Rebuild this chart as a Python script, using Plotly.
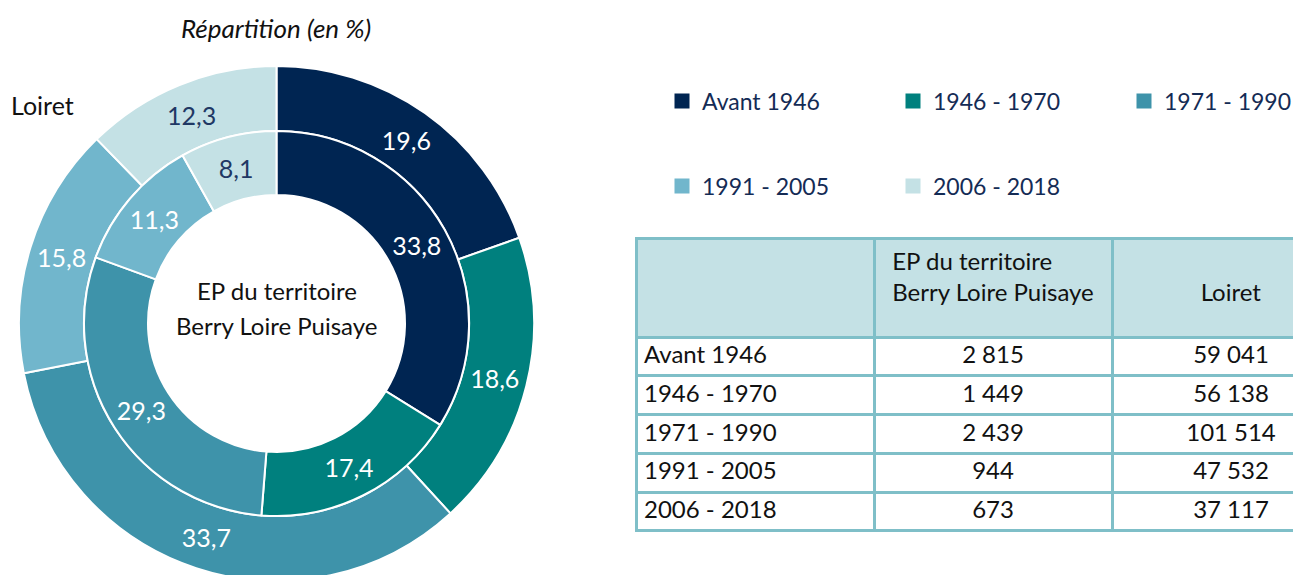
import plotly.graph_objects as go

# ---------------- data ----------------
periods = ["Avant 1946", "1946 - 1970", "1971 - 1990", "1991 - 2005", "2006 - 2018"]
pct_ep = [33.8, 17.4, 29.3, 11.3, 8.1]          # inner ring: EP du territoire Berry Loire Puisaye
pct_loiret = [19.6, 18.6, 33.7, 15.8, 12.3]     # outer ring: Loiret
n_ep = [2815, 1449, 2439, 944, 673]
n_loiret = [59041, 56138, 101514, 47532, 37117]

col_headers = ["", "EP du territoire<br>Berry Loire Puisaye", "\u00a0<br>Loiret"]
center_lines = ["EP du territoire", "Berry Loire Puisaye"]

# ---------------- style ----------------
colors = ["#002552", "#00807E", "#3E93AA", "#71B6CC", "#C4E1E5"]
txt_colors = ["white", "white", "white", "white", "#1F3864"]
FONT = "Lato"
W, H = 1352, 590   # page viewport is 1293x575: right/bottom overflow is clipped as in the reference


def px_x(x):
    return x / W


def px_y(y):
    return 1 - y / H


def fr(v):
    return f"{v:.1f}".replace(".", ",")


def fnum(v):
    return f"{v:,}".replace(",", "\u202f")


cx, cy = 276.5, 323.5
R_out, R_mid, R_in = 257.5, 192.5, 128.5

fig = go.Figure()

# outer ring (Loiret)
fig.add_trace(go.Pie(
    labels=periods, values=pct_loiret, text=[fr(v) for v in pct_loiret],
    textinfo="text", textposition="inside", insidetextorientation="horizontal",
    textfont=dict(family=FONT, size=25, color=txt_colors),
    marker=dict(colors=colors, line=dict(color="white", width=2)),
    sort=False, direction="clockwise", rotation=0,
    hole=R_mid / R_out, showlegend=False, hoverinfo="label+text",
    domain=dict(x=[px_x(cx - R_out), px_x(cx + R_out)], y=[px_y(cy + R_out), px_y(cy - R_out)]),
))

# inner ring (EP)
fig.add_trace(go.Pie(
    labels=periods, values=pct_ep, text=[fr(v) for v in pct_ep],
    textinfo="text", textposition="inside", insidetextorientation="horizontal",
    textfont=dict(family=FONT, size=25, color=txt_colors),
    marker=dict(colors=colors, line=dict(color="white", width=2)),
    sort=False, direction="clockwise", rotation=0,
    hole=R_in / R_mid, showlegend=False, hoverinfo="label+text",
    domain=dict(x=[px_x(cx - R_mid), px_x(cx + R_mid)], y=[px_y(cy + R_mid), px_y(cy - R_mid)]),
))

# legend entries
for i, p in enumerate(periods):
    fig.add_trace(go.Scatter(
        x=[None], y=[None], mode="markers", name=p,
        marker=dict(symbol="square", size=15, color=colors[i]),
        legend="legend" if i < 3 else "legend2", showlegend=True, hoverinfo="skip",
    ))

# table
fig.add_trace(go.Table(
    domain=dict(x=[px_x(636), px_x(1350)], y=[px_y(545), px_y(238)]),
    columnwidth=[238, 238, 238],
    header=dict(
        values=col_headers,
        fill_color="#C4E1E5", line=dict(color="#7FBFC8", width=3),
        align="center", height=99,
        font=dict(family=FONT, size=24, color="#111111"),
    ),
    cells=dict(
        values=[periods, [fnum(v) for v in n_ep], [fnum(v) for v in n_loiret]],
        fill_color="white", line=dict(color="#7FBFC8", width=3),
        align=["left", "center", "center"], height=38.8,
        font=dict(family=FONT, size=24, color="#111111"),
    ),
))

legend_common = dict(
    orientation="h", xanchor="left", yanchor="middle",
    entrywidth=186, entrywidthmode="pixels",
    font=dict(family=FONT, size=23, color="#142B55"),
    bgcolor="rgba(0,0,0,0)", borderwidth=0, itemclick=False, itemdoubleclick=False,
)

fig.update_layout(
    width=W, height=H,
    margin=dict(l=0, r=0, t=0, b=0, autoexpand=False),
    paper_bgcolor="white", plot_bgcolor="white",
    xaxis=dict(visible=False), yaxis=dict(visible=False),
    legend=dict(x=px_x(662), y=px_y(101), **legend_common),
    legend2=dict(x=px_x(662), y=px_y(186), **legend_common),
    font=dict(family=FONT, size=24, color="#111111"),
    annotations=[
        dict(text="<i>Répartition (en %)</i>", x=px_x(276), y=px_y(28), xref="paper", yref="paper",
             xanchor="center", yanchor="middle",
             showarrow=False, font=dict(family=FONT, size=26, color="#111111")),
        dict(text="Loiret", x=px_x(9), y=px_y(105), xref="paper", yref="paper",
             xanchor="left", yanchor="middle",
             showarrow=False, font=dict(family=FONT, size=25, color="#111111")),
        dict(text=center_lines[0], x=px_x(cx), y=px_y(290), xref="paper",
             yref="paper", xanchor="center", yanchor="middle",
             showarrow=False, font=dict(family=FONT, size=24, color="#111111")),
        dict(text=center_lines[1], x=px_x(cx), y=px_y(325), xref="paper",
             yref="paper", xanchor="center", yanchor="middle",
             showarrow=False, font=dict(family=FONT, size=24, color="#111111")),
    ],
)

fig.write_html(
    "out.html",
    post_script="document.documentElement.style.overflow='hidden';document.body.style.overflow='hidden';document.body.style.margin='0';",
)
